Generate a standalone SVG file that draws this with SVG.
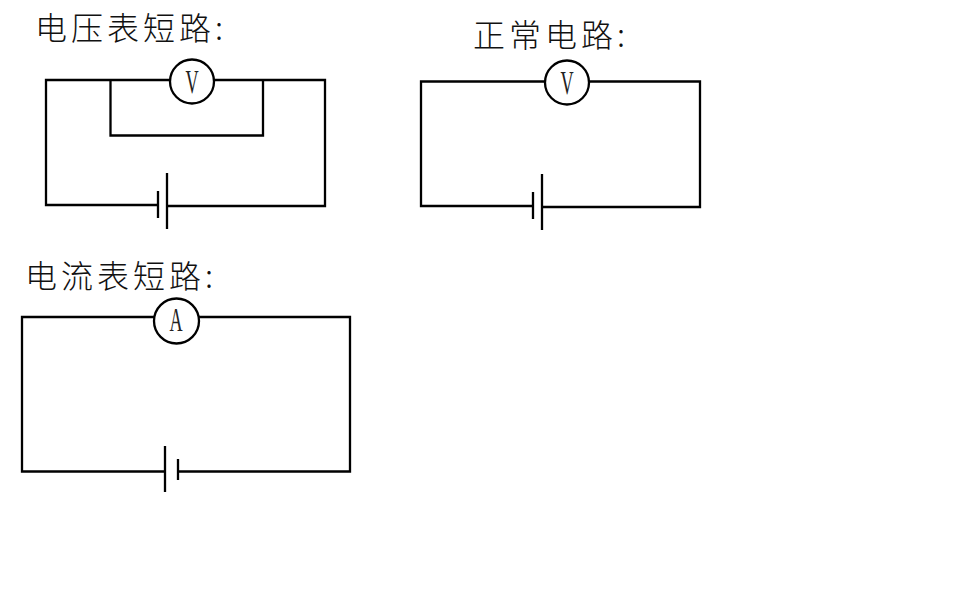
<svg xmlns="http://www.w3.org/2000/svg" width="962" height="612" viewBox="0 0 962 612">
<style>
.w{fill:none;stroke:#000;stroke-width:2.300;stroke-linejoin:miter}
.c{fill:#fff;stroke:#000;stroke-width:2.300}
.t{font-family:"Noto Sans CJK SC","Noto Sans CJK JP",sans-serif;font-weight:300;font-size:32px;letter-spacing:4px;fill:#111}
.m{font-family:"Liberation Serif",serif;font-size:33px;text-anchor:middle;fill:#222}
</style>
<rect width="962" height="612" fill="#fff"/>
<g id="connectors">
<path class="w" d="M158 205H46V80H325V206H167"/>
<path class="w" d="M110.500 80V135.500H263V80"/>
<path class="w" d="M158 191V218M167 173V229"/>
<path class="w" d="M533 206H421V81.500H700V207H542"/>
<path class="w" d="M533 192V219M542 174V230"/>
<path class="w" d="M165 471.500H22V317H350V471.500H178"/>
<path class="w" d="M165 446V492M178 459V480"/>
</g>
<g id="title-1"><text class="t" x="35" y="40">电压表短路:</text></g>
<g id="title-2"><text class="t" x="473" y="47">正常电路:</text></g>
<g id="title-3"><text class="t" x="25" y="288">电流表短路:</text></g>
<g id="voltmeter-1"><circle class="c" cx="192" cy="81.500" r="22"/><text class="m" transform="translate(192 93) scale(.55 1)">V</text></g>
<g id="voltmeter-2"><circle class="c" cx="567" cy="82.500" r="22"/><text class="m" transform="translate(567 94) scale(.55 1)">V</text></g>
<g id="ammeter"><circle class="c" cx="176.500" cy="321" r="22.500"/><text class="m" transform="translate(176 331) scale(.55 1)">A</text></g>
</svg>
